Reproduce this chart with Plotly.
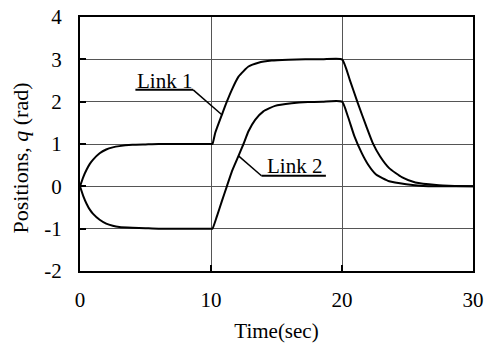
import plotly.graph_objects as go

# Time samples and read-off values (rad)
t1 = [0, 0.25, 0.5, 0.75, 1.0, 1.5, 2.0, 2.5, 3.0, 4.0, 5.0, 6.0, 10.0, 10.11,
      10.32, 10.83, 11.21, 11.59, 12.1, 12.86, 13.62, 14.64, 15.9, 17.2, 18.5, 20.0,
      20.6, 21.2, 21.85, 22.35, 22.9, 23.6, 24.6, 25.6, 27.2, 28.6, 30.0]
link1 = [0, 0.22, 0.39, 0.53, 0.63, 0.78, 0.87, 0.92, 0.95, 0.98, 0.99, 1.0, 1.0, 1.0,
         1.26, 1.69, 2.0, 2.28, 2.59, 2.83, 2.92, 2.97, 2.99, 3.0, 3.0, 3.0,
         2.51, 1.97, 1.42, 1.02, 0.71, 0.43, 0.21, 0.09, 0.03, 0.01, 0.0]

t2 = [0, 0.25, 0.5, 0.75, 1.0, 1.5, 2.0, 2.5, 3.0, 4.0, 5.0, 6.0, 10.0, 10.11,
      10.45, 10.83, 11.21, 11.59, 12.1, 12.48, 12.86, 13.37, 14.0, 14.89, 16.16, 17.4, 18.5, 20.0,
      20.45, 20.95, 21.5, 22.0, 22.6, 23.6, 24.9, 26.2, 28.0, 30.0]
link2 = [0, -0.23, -0.41, -0.55, -0.65, -0.79, -0.88, -0.93, -0.96, -0.98, -0.99, -1.0, -1.0, -1.0,
         -0.71, -0.35, 0.0, 0.35, 0.72, 1.0, 1.30, 1.57, 1.77, 1.90, 1.96, 1.99, 2.0, 2.0,
         1.65, 1.18, 0.79, 0.51, 0.28, 0.12, 0.05, 0.01, 0.0, 0.0]

x_ticks = [0, 10, 20, 30]
y_ticks = [-2, -1, 0, 1, 2, 3, 4]
y_tick_text = ["-2", "-1", "0", "1", "2", "3", "4"]

# Label annotations: (text, text x, text y, underline x0, x1, y, leader end x, y)
labels = [
    ("Link 1", 6.44, 2.50, 4.23, 8.64, 2.28, 10.83, 1.69),
    ("Link 2", 16.34, 0.49, 13.85, 18.77, 0.25, 12.1, 0.72),
]

FONT = "Liberation Serif, Times New Roman, serif"

fig = go.Figure()
fig.add_trace(go.Scatter(x=t1, y=link1, mode="lines",
                         line=dict(color="black", width=2, shape="spline", smoothing=0.5),
                         showlegend=False))
fig.add_trace(go.Scatter(x=t2, y=link2, mode="lines",
                         line=dict(color="black", width=2, shape="spline", smoothing=0.5),
                         showlegend=False))

for txt, tx, ty, ux0, ux1, uy, lx, ly in labels:
    fig.add_annotation(x=tx, y=ty, text=txt, showarrow=False, xref="x", yref="y",
                       xanchor="center", yanchor="middle",
                       font=dict(family=FONT, size=21, color="black"))
    fig.add_shape(type="line", x0=ux0, x1=ux1, y0=uy, y1=uy, xref="x", yref="y",
                  line=dict(color="black", width=2))
    sx = ux1 if lx > ux1 else ux0
    fig.add_shape(type="line", x0=sx, x1=lx, y0=uy, y1=ly, xref="x", yref="y",
                  line=dict(color="black", width=1.5))

fig.add_annotation(x=-0.151, y=0.4456, xref="paper", yref="paper",
                   text="Positions, <i>q</i> (rad)", textangle=-90, showarrow=False,
                   xanchor="center", yanchor="middle",
                   font=dict(family=FONT, size=22, color="black"))

fig.update_layout(
    width=488, height=343,
    margin=dict(l=79.5, r=14.5, t=16.5, b=71.6),
    paper_bgcolor="white", plot_bgcolor="white",
    font=dict(family=FONT, size=21, color="black"),
    xaxis=dict(range=[0, 30], tickvals=x_ticks, showgrid=True, gridcolor="#555555",
               gridwidth=1, showline=True, linecolor="black", linewidth=2, mirror=True,
               ticks="inside", ticklen=6, tickwidth=2, tickcolor="black",
               zeroline=False, ticklabelstandoff=9, automargin=False,
               ticklabeloverflow="allow",
               title=dict(text="Time(sec)", font=dict(family=FONT, size=21), standoff=14)),
    yaxis=dict(range=[-2, 4], tickvals=y_ticks, ticktext=y_tick_text, showgrid=True,
               gridcolor="#555555",
               gridwidth=1, showline=True, linecolor="black", linewidth=2, mirror=True,
               ticks="inside", ticklen=6, tickwidth=2, tickcolor="black",
               zeroline=False, ticklabelstandoff=12, automargin=False,
               ticklabeloverflow="allow"),
)

fig.write_html("out.html",
               config={"displayModeBar": False},
               post_script="document.body.style.margin='0px';document.body.style.overflow='hidden';")
